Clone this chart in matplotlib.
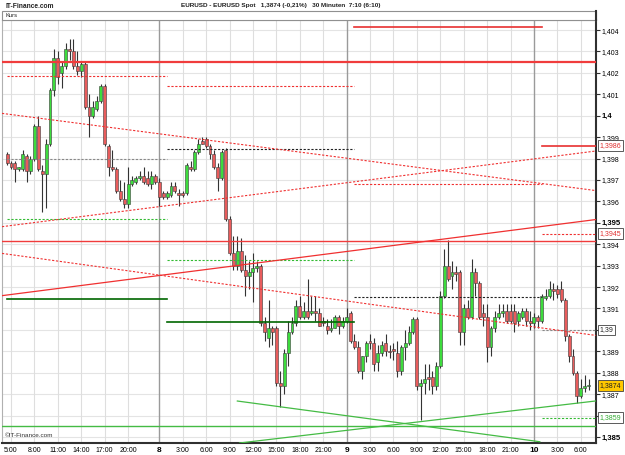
import matplotlib
matplotlib.use("Agg")
import matplotlib.pyplot as plt
import matplotlib.transforms as mtransforms
from matplotlib.patches import Rectangle
import numpy as np
import pandas as pd

plt.rcParams['font.family'] = ['Liberation Sans Narrow', 'Liberation Sans', 'DejaVu Sans']

# 30 minute candles EURUSD, 7.3. 4:30 .. 10.3. 7:00
opens = [1.3982, 1.3978, 1.3978, 1.3975, 1.3975, 1.3981, 1.3974, 1.3980, 1.3995, 1.3974,
         1.3973, 1.3987, 1.4012, 1.4027, 1.4020, 1.4023, 1.4031, 1.4030, 1.4023, 1.4021,
         1.4024, 1.4004, 1.4000, 1.4003, 1.4007, 1.4014, 1.3986, 1.3976, 1.3975, 1.3965,
         1.3961, 1.3959, 1.3968, 1.3969, 1.3971, 1.3972, 1.3971, 1.3968, 1.3972, 1.3969,
         1.3964, 1.3962, 1.3963, 1.3967, 1.3964, 1.3964, 1.3964, 1.3976, 1.3975, 1.3983,
         1.3988, 1.3989, 1.3986, 1.3982, 1.3976, 1.3971, 1.3984, 1.3952, 1.3936, 1.3930,
         1.3937, 1.3928, 1.3925, 1.3927, 1.3929, 1.3930, 1.3903, 1.3896, 1.3901, 1.3901,
         1.3875, 1.3874, 1.3889, 1.3899, 1.3903, 1.3911, 1.3906, 1.3909, 1.3908, 1.3909,
         1.3908, 1.3904, 1.3902, 1.3900, 1.3901, 1.3906, 1.3902, 1.3904, 1.3908, 1.3895,
         1.3892, 1.3881, 1.3888, 1.3895, 1.3894, 1.3885, 1.3889, 1.3894, 1.3890, 1.3891,
         1.3889, 1.3881, 1.3892, 1.3894, 1.3899, 1.3905, 1.3874, 1.3875, 1.3878, 1.3878,
         1.3874, 1.3883, 1.3916, 1.3930, 1.3925, 1.3927, 1.3927, 1.3899, 1.3910, 1.3906,
         1.3927, 1.3922, 1.3908, 1.3906, 1.3892, 1.3901, 1.3906, 1.3908, 1.3909, 1.3909,
         1.3909, 1.3904, 1.3906, 1.3909, 1.3904, 1.3903, 1.3906, 1.3904, 1.3915, 1.3916,
         1.3919, 1.3919, 1.3919, 1.3914, 1.3897, 1.3888, 1.3880, 1.3869, 1.3873, 1.3874]
highs = [1.3983, 1.3979, 1.3979, 1.3976, 1.3984, 1.3982, 1.3981, 1.3996, 1.4000, 1.3977,
         1.3989, 1.4013, 1.4031, 1.4030, 1.4025, 1.4034, 1.4036, 1.4036, 1.4030, 1.4025,
         1.4025, 1.4010, 1.4007, 1.4009, 1.4015, 1.4015, 1.3987, 1.3984, 1.3976, 1.3970,
         1.3969, 1.3976, 1.3972, 1.3972, 1.3974, 1.3976, 1.3974, 1.3974, 1.3973, 1.3971,
         1.3965, 1.3965, 1.3969, 1.3969, 1.3966, 1.3965, 1.3978, 1.3979, 1.3984, 1.3989,
         1.3990, 1.3990, 1.3987, 1.3984, 1.3978, 1.3984, 1.3985, 1.3953, 1.3944, 1.3944,
         1.3943, 1.3935, 1.3932, 1.3936, 1.3932, 1.3931, 1.3906, 1.3914, 1.3902, 1.3902,
         1.3881, 1.3891, 1.3904, 1.3906, 1.3914, 1.3916, 1.3913, 1.3924, 1.3916, 1.3916,
         1.3910, 1.3906, 1.3905, 1.3905, 1.3907, 1.3907, 1.3906, 1.3910, 1.3909, 1.3898,
         1.3895, 1.3888, 1.3895, 1.3898, 1.3896, 1.3893, 1.3895, 1.3898, 1.3893, 1.3894,
         1.3895, 1.3893, 1.3900, 1.3902, 1.3906, 1.3906, 1.3877, 1.3884, 1.3884, 1.3881,
         1.3885, 1.3918, 1.3938, 1.3942, 1.3932, 1.3930, 1.3928, 1.3912, 1.3914, 1.3933,
         1.3929, 1.3923, 1.3912, 1.3912, 1.3902, 1.3909, 1.3912, 1.3912, 1.3912, 1.3912,
         1.3912, 1.3909, 1.3910, 1.3910, 1.3909, 1.3908, 1.3907, 1.3917, 1.3919, 1.3923,
         1.3922, 1.3921, 1.3923, 1.3915, 1.3898, 1.3891, 1.3881, 1.3877, 1.3879, 1.3877]
lows = [1.3977, 1.3975, 1.3969, 1.3974, 1.3974, 1.3969, 1.3973, 1.3979, 1.3974, 1.3955,
        1.3957, 1.3986, 1.4009, 1.4015, 1.4013, 1.4022, 1.4026, 1.4022, 1.4019, 1.4018,
        1.4003, 1.3990, 1.3999, 1.4002, 1.4006, 1.3986, 1.3972, 1.3974, 1.3964, 1.3960,
        1.3957, 1.3957, 1.3967, 1.3968, 1.3970, 1.3968, 1.3967, 1.3966, 1.3968, 1.3958,
        1.3961, 1.3961, 1.3962, 1.3964, 1.3958, 1.3962, 1.3963, 1.3974, 1.3974, 1.3982,
        1.3987, 1.3985, 1.3980, 1.3975, 1.3965, 1.3970, 1.3951, 1.3935, 1.3928, 1.3928,
        1.3927, 1.3916, 1.3919, 1.3913, 1.3927, 1.3902, 1.3895, 1.3892, 1.3893, 1.3874,
        1.3864, 1.3870, 1.3883, 1.3898, 1.3902, 1.3905, 1.3905, 1.3905, 1.3907, 1.3904,
        1.3902, 1.3902, 1.3898, 1.3899, 1.3901, 1.3898, 1.3901, 1.3903, 1.3894, 1.3891,
        1.3880, 1.3877, 1.3885, 1.3891, 1.3881, 1.3881, 1.3888, 1.3888, 1.3887, 1.3886,
        1.3878, 1.3879, 1.3886, 1.3893, 1.3898, 1.3872, 1.3858, 1.3870, 1.3872, 1.3870,
        1.3872, 1.3882, 1.3915, 1.3923, 1.3919, 1.3923, 1.3893, 1.3893, 1.3905, 1.3905,
        1.3916, 1.3905, 1.3902, 1.3885, 1.3888, 1.3899, 1.3905, 1.3906, 1.3903, 1.3903,
        1.3899, 1.3902, 1.3905, 1.3902, 1.3900, 1.3901, 1.3901, 1.3903, 1.3914, 1.3915,
        1.3914, 1.3915, 1.3913, 1.3895, 1.3885, 1.3879, 1.3866, 1.3868, 1.3871, 1.3872]
closes = [1.3978, 1.3976, 1.3975, 1.3976, 1.3982, 1.3974, 1.3980, 1.3995, 1.3975, 1.3973,
          1.3987, 1.4012, 1.4027, 1.4018, 1.4023, 1.4031, 1.4030, 1.4023, 1.4021, 1.4024,
          1.4004, 1.4000, 1.4004, 1.4007, 1.4014, 1.3987, 1.3976, 1.3975, 1.3965, 1.3961,
          1.3959, 1.3968, 1.3970, 1.3971, 1.3972, 1.3969, 1.3968, 1.3972, 1.3969, 1.3962,
          1.3962, 1.3964, 1.3967, 1.3965, 1.3963, 1.3963, 1.3977, 1.3975, 1.3983, 1.3987,
          1.3987, 1.3986, 1.3982, 1.3976, 1.3971, 1.3983, 1.3952, 1.3936, 1.3930, 1.3937,
          1.3928, 1.3925, 1.3927, 1.3929, 1.3930, 1.3903, 1.3899, 1.3901, 1.3899, 1.3875,
          1.3874, 1.3889, 1.3899, 1.3903, 1.3911, 1.3906, 1.3909, 1.3906, 1.3909, 1.3908,
          1.3902, 1.3903, 1.3900, 1.3901, 1.3906, 1.3902, 1.3904, 1.3906, 1.3895, 1.3892,
          1.3881, 1.3888, 1.3894, 1.3894, 1.3884, 1.3889, 1.3893, 1.3890, 1.38895, 1.3890,
          1.3881, 1.3892, 1.3894, 1.3899, 1.3905, 1.3874, 1.3875, 1.3877, 1.3877, 1.3874,
          1.3883, 1.3916, 1.3930, 1.3924, 1.3927, 1.3926, 1.3899, 1.3910, 1.3906, 1.3927,
          1.3922, 1.3906, 1.3906, 1.3892, 1.3901, 1.3906, 1.3908, 1.3909, 1.3904, 1.3904,
          1.3903, 1.3908, 1.3909, 1.3904, 1.3903, 1.3906, 1.3904, 1.3916, 1.3916, 1.3919,
          1.3918, 1.3917, 1.3914, 1.3897, 1.3888, 1.3880, 1.3869, 1.3873, 1.3874, 1.3874]

# daily levels (one value per day segment, None = not drawn)
seg_start = [0, 41, 89, 137]
seg_end = [41, 89, 137, 150.9]
res_dotted = [1.40185, 1.40139, 1.39681, 1.3945]
pivot_dashed = [1.39798, 1.39844, 1.39153, 1.3900]
sup_dashed = [1.39518, 1.39326, None, 1.3859]
low_solid = [1.39144, 1.39037, None, None]
high_solid = [None, None, 1.40414, 1.3986]

# full width levels
red_levels = [1.40251, 1.39415]
green_level = 1.38551

# trend lines: two (candle, price) anchors each
red_dotted_trends = [[(0, 1.40008), (149, 1.39655)],
                     [(0, 1.39354), (149, 1.38979)],
                     [(0, 1.39485), (149, 1.39831)]]
red_solid_trend = [(0, 1.39163), (149, 1.39511)]
green_up_trend = [(67, 1.38488), (147, 1.3866)]
green_down_seg = [(59, 1.38668), (136.5, 1.38478)]

# value boxes on the right axis
box_values = [1.3986, 1.3945, 1.3900, 1.3874, 1.3859]
box_texts = ['1,3986', '1,3945', '1,39', '1,3874', '1,3859']

times = pd.date_range('2011-03-07 04:30', periods=len(closes), freq='30min')
x = np.arange(len(closes))
o = np.array(opens)
c = np.array(closes)

W, H = 625, 455
fig = plt.figure(figsize=(W / 100, H / 100), dpi=100)
fig.patch.set_facecolor('white')
ax = fig.add_axes([2 / W, 12 / H, 594 / W, 423 / H])
ax.set_xlim(-1.3, 150.9)
ax.set_ylim(1.38472, 1.40447)

# grid
yt = np.round(np.arange(1.385, 1.4045, 0.001), 3)
for v in yt:
    ax.axhline(v, color='#e4e4e4', lw=0.8, zorder=0)

tick_pos, tick_lab, tick_bold = [], [], []
for i, t in enumerate(times):
    if t.minute != 0:
        continue
    if t.day == 7 and t.hour in (5, 8, 11, 14, 17, 20):
        tick_pos.append(i); tick_lab.append(f'{t.hour}:00'); tick_bold.append(False)
    elif t.day > 7 and t.hour % 3 == 0:
        tick_pos.append(i)
        if t.hour == 0:
            tick_lab.append(str(t.day)); tick_bold.append(True)
        else:
            tick_lab.append(f'{t.hour}:00'); tick_bold.append(False)
for p, b in zip(tick_pos, tick_bold):
    ax.axvline(p, color='#9a9a9a' if b else '#dedede', lw=1.0 if b else 0.8, zorder=0)

# candles
for i in x:
    ax.vlines(i, lows[i], highs[i], color='#333333', lw=0.8, zorder=2)
    up = c[i] >= o[i]
    h = max(abs(c[i] - o[i]), 0.00002)
    ax.bar(i, h, bottom=min(o[i], c[i]), width=0.75,
           color='#3ddc3d' if up else '#e85c5c', edgecolor='#3a3a3a', lw=0.4, zorder=2.5)

dot = (0, (2, 1.5))
for k in range(len(seg_start)):
    xs = [seg_start[k], seg_end[k]]
    if res_dotted[k] is not None:
        ax.plot(xs, [res_dotted[k]] * 2, color='#f03030', lw=0.8, ls=dot, zorder=3)
    if pivot_dashed[k] is not None:
        col = '#222222' if k in (1, 2) else '#888888'
        ax.plot(xs, [pivot_dashed[k]] * 2, color=col, lw=0.8, ls=dot, zorder=3)
    if sup_dashed[k] is not None:
        ax.plot(xs, [sup_dashed[k]] * 2, color='#33bb33', lw=0.8, ls=dot, zorder=3)
    if low_solid[k] is not None:
        ax.plot(xs, [low_solid[k]] * 2, color='#006600', lw=1.2, zorder=3)
    if high_solid[k] is not None:
        ax.plot(xs, [high_solid[k]] * 2, color='#e83030', lw=1.2, zorder=3)

ax.axhline(red_levels[0], color='#f03c3c', lw=1.6, zorder=3)
ax.axhline(red_levels[1], color='#f03c3c', lw=1.0, zorder=3)
ax.axhline(green_level, color='#44bb44', lw=1.0, zorder=3)

for p1, p2 in red_dotted_trends:
    ax.axline(p1, p2, color='#f03030', lw=0.8, ls=dot, zorder=3)
ax.axline(red_solid_trend[0], red_solid_trend[1], color='#f03030', lw=0.9, zorder=3)
ax.axline(green_up_trend[0], green_up_trend[1], color='#44bb44', lw=0.9, zorder=3)
ax.plot([green_down_seg[0][0], green_down_seg[1][0]],
        [green_down_seg[0][1], green_down_seg[1][1]], color='#44bb44', lw=0.9, zorder=3)

# axes styling
for s in ('top', 'left'):
    ax.spines[s].set_color('#b0b0b0')
    ax.spines[s].set_linewidth(0.8)
for s in ('right', 'bottom'):
    ax.spines[s].set_color('#303030')
    ax.spines[s].set_linewidth(1.5)

ax.set_xticks(tick_pos)
ax.set_xticklabels(tick_lab, fontsize=5)
for lab, b in zip(ax.get_xticklabels(), tick_bold):
    if b:
        lab.set_fontweight('bold')
        lab.set_fontsize(6)
ax.tick_params(axis='x', length=0, pad=3)

ax.yaxis.tick_right()
ax.set_yticks(yt)
ylabs = []
for v in yt:
    if v in (1.390, 1.386):
        ylabs.append('')
    else:
        ylabs.append(('%.3f' % v).rstrip('0').rstrip('.').replace('.', ','))
ax.set_yticklabels(ylabs, fontsize=5)
for lab, v in zip(ax.get_yticklabels(), yt):
    if round(v * 1000) % 5 == 0:
        lab.set_fontweight('bold')
        lab.set_fontsize(5.5)
ax.tick_params(axis='y', length=3, width=0.8, pad=1, color='#303030')

trans = mtransforms.blended_transform_factory(ax.transAxes, ax.transData)
box_fc = ['white', 'white', 'white', '#ffc800', 'white']
box_tc = ['#e03030', '#e03030', '#222222', '#222222', '#33aa33']
for v, t, fc, tc in zip(box_values, box_texts, box_fc, box_tc):
    ax.text(1.006, v, t, transform=trans, fontsize=5, color=tc, va='center', ha='left',
            bbox=dict(boxstyle='square,pad=0.25', fc=fc, ec='#404040', lw=0.6), zorder=5)

ax.text(0.004, 0.012, '\u00a9IT-Finance.com', transform=ax.transAxes, fontsize=4.6,
        color='#333333', va='bottom')

# header
fig.patches.append(Rectangle((2 / W, 1 - 20 / H), 594 / W, 9 / H, transform=fig.transFigure,
                             fc='white', ec='#909090', lw=0.8))
fig.add_artist(plt.Line2D([596 / W, 596 / W], [1 - 11 / H, 1 - 20 / H],
                          transform=fig.transFigure, color='#303030', lw=1.5))
fig.text(5 / W, 1 - 15.5 / H, 'Kurs', fontsize=4.2, va='center', color='#222222')
fig.text(5 / W, 1 - 6 / H, 'IT-Finance.com', fontsize=4.8, va='center', color='#222222',
         fontweight='bold')
fig.text(281 / W, 1 - 6 / H,
         'EURUSD - EURUSD Spot   1,3874 (-0,21%)   30 Minuten  7:10 (6:10)',
         fontsize=4.6, va='center', ha='center', color='#222222', fontweight='bold')

fig.savefig('out.png', dpi=100)
